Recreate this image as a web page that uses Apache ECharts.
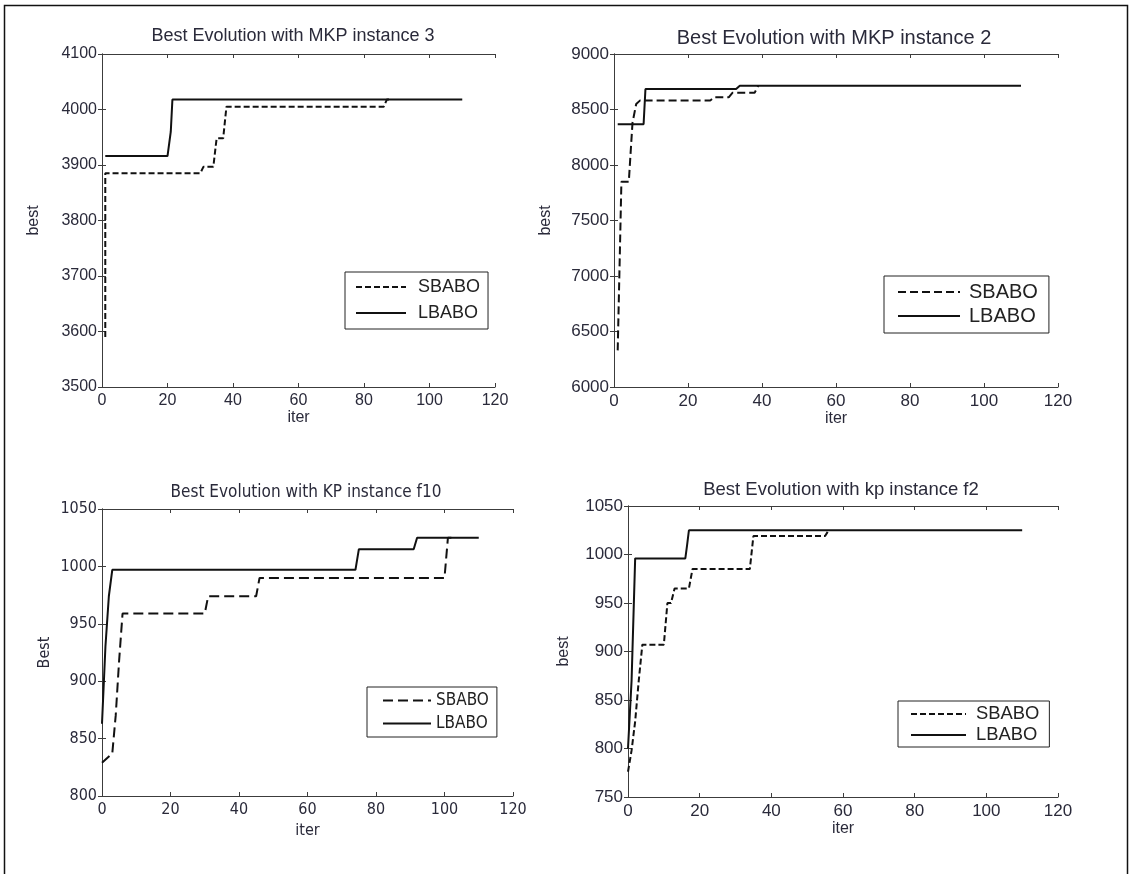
<!DOCTYPE html>
<html>
<head>
<meta charset="utf-8">
<script src="https://cdn.jsdelivr.net/npm/echarts@6/dist/echarts.min.js"></script>
<style>
html,body{margin:0;padding:0;background:#fff;}
#chart{width:1133px;height:874px;}
</style>
</head>
<body>
<div id="chart"></div>
<script>
// ---- Data (iteration, best value) ----
const titles = [
  'Best Evolution with MKP instance 3',
  'Best Evolution with MKP instance 2',
  'Best Evolution with KP instance f10',
  'Best Evolution with kp instance f2'
];
const yNames = ['best', 'best', 'Best', 'best'];
const xName = 'iter';
const seriesNames = ['SBABO', 'LBABO'];

const xRange = [0, 120, 20];          // min, max, interval
const yRange1 = [3500, 4100, 100];
const yRange2 = [6000, 9000, 500];
const yRange3 = [800, 1050, 50];
const yRange4 = [750, 1050, 50];

const mkp3Sbabo = [[1,3590],[1,3885],[30,3885],[31,3897],[34,3897],[35,3948],[37,3948],[38,4005],[86,4005],[87,4018],[88,4018]];
const mkp3Lbabo = [[1,3916],[20,3916],[21,3960],[21.5,4018],[110,4018]];

const mkp2Sbabo = [[1,6330],[1.5,7084],[2,7850],[4,7850],[5,8380],[6,8550],[7,8580],[26,8580],[27,8610],[31,8610],[32,8650],[38,8650],[39,8715]];
const mkp2Lbabo = [[1,8367],[8,8367],[8.5,8685],[33,8685],[34,8715],[110,8715]];

const kpf10Sbabo = [[0,829],[3,837],[4,870],[5,918],[6,959],[30,959],[31,974],[45,974],[46,990],[100,990],[101,1025],[102,1025]];
const kpf10Lbabo = [[0,863],[1,930],[2,974],[3,997],[74,997],[75,1015],[91,1015],[92,1025],[110,1025]];

const kpf2Sbabo = [[0,776],[1,798],[2,828],[3,870],[4,907],[10,907],[11,950],[12,950],[13,965],[17,965],[18,985],[34,985],[35,1019],[55,1019],[56,1025]];
const kpf2Lbabo = [[0,800],[1,870],[2,996],[16,996],[16.5,1010],[17,1025],[110,1025]];

// ---- Layout ----
const FONT = "'Liberation Sans', Arial, sans-serif";
const NARROW = "'Liberation Sans Narrow', 'DejaVu Sans Condensed', 'Liberation Sans', Arial, sans-serif";
const panels = [
  {grid:{left:102, top:54, width:393, height:333}, y:yRange1, s:mkp3Sbabo, l:mkp3Lbabo, dash:[6,3], font:FONT, fs:16, tfs:18,
   titleX:293, titleY:36, yGap:60, xGap:22, nfs:16,
   legend:{left:345, top:272, pad:[6,8,7,10], gap:8, tpad:7}, lfs:18, iw:50},
  {grid:{left:614, top:54, width:444, height:333}, y:yRange2, s:mkp2Sbabo, l:mkp2Lbabo, dash:[8,4], font:FONT, fs:17, tfs:20,
   titleX:834, titleY:38, yGap:60, xGap:22, nfs:16,
   legend:{left:884, top:276, pad:[6,11,7,13], gap:4, tpad:4}, lfs:20, iw:62},
  {grid:{left:102, top:509, width:411, height:287}, y:yRange3, s:kpf10Sbabo, l:kpf10Lbabo, dash:[10,5], font:NARROW, fs:16, tfs:17,
   titleX:306, titleY:493, yGap:49, xGap:27, nfs:16,
   legend:{left:367, top:687, pad:[5,8,5,15], gap:6, tpad:0}, lfs:17, iw:48},
  {grid:{left:628, top:506, width:430, height:291}, y:yRange4, s:kpf2Sbabo, l:kpf2Lbabo, dash:[6,3], font:FONT, fs:17, tfs:18.5,
   titleX:841, titleY:490, yGap:56, xGap:23, nfs:16,
   legend:{left:898, top:701, pad:[4,10,3,12], gap:3, tpad:5}, lfs:18.4, iw:55}
];

const AX = '#3c3c3c';
const TXT = '#2a2a3a';
const plain = v => String(v);
const noDot = {color:'rgba(0,0,0,0)', borderColor:'rgba(0,0,0,0)', borderWidth:0};
const grids = [], xAxes = [], yAxes = [], series = [], titleArr = [], legends = [];

panels.forEach((p, i) => {
  grids.push(Object.assign({containLabel:false}, p.grid));
  const tick = {show:true, inside:true, length:4, lineStyle:{color:AX}};
  const line = {show:true, lineStyle:{color:AX, width:1}};
  // bottom x axis
  xAxes.push({type:'value', gridIndex:i, position:'bottom', min:xRange[0], max:xRange[1], interval:xRange[2],
    axisLine:line, axisTick:tick, splitLine:{show:false},
    axisLabel:{color:TXT, fontFamily:p.font, fontSize:p.fs, margin:6, formatter:plain},
    name:xName, nameLocation:'middle', nameGap:p.xGap, nameTextStyle:{color:TXT, fontFamily:p.font, fontSize:p.nfs}});
  // top x axis (ticks only)
  xAxes.push({type:'value', gridIndex:i, position:'top', min:xRange[0], max:xRange[1], interval:xRange[2],
    axisLine:line, axisTick:tick, splitLine:{show:false}, axisLabel:{show:false}});
  // left y axis
  yAxes.push({type:'value', gridIndex:i, position:'left', min:p.y[0], max:p.y[1], interval:p.y[2],
    axisLine:line, axisTick:tick, splitLine:{show:false},
    axisLabel:{color:TXT, fontFamily:p.font, fontSize:p.fs, margin:5, formatter:plain},
    name:yNames[i], nameLocation:'middle', nameGap:p.yGap, nameTextStyle:{color:TXT, fontFamily:p.font, fontSize:p.nfs}});
  // right y axis (ticks only)
  yAxes.push({type:'value', gridIndex:i, position:'right', min:p.y[0], max:p.y[1], interval:p.y[2],
    axisLine:line, axisTick:tick, splitLine:{show:false}, axisLabel:{show:false}});

  series.push({name:seriesNames[0], type:'line', xAxisIndex:2*i, yAxisIndex:2*i, data:p.s,
    symbol:'none', animation:false, itemStyle:{color:'#111'}, lineStyle:{color:'#111', width:2, type:p.dash}, z:3});
  series.push({name:seriesNames[1], type:'line', xAxisIndex:2*i, yAxisIndex:2*i, data:p.l,
    symbol:'none', animation:false, itemStyle:{color:'#111'}, lineStyle:{color:'#111', width:2, type:'solid'}, z:2});

  titleArr.push({text:titles[i], left:p.titleX, top:p.titleY, textAlign:'center', textVerticalAlign:'middle', padding:0,
    textStyle:{color:TXT, fontFamily:p.font, fontSize:p.tfs, fontWeight:'normal'}});

  legends.push({left:p.legend.left, top:p.legend.top, orient:'vertical', padding:p.legend.pad, itemGap:p.legend.gap,
    itemWidth:p.iw, itemHeight:10, borderColor:'#222', borderWidth:1, backgroundColor:'#fff',
    selectedMode:false,
    textStyle:{color:'#222', fontFamily:p.font, fontSize:p.lfs, padding:[0,0,0,p.legend.tpad]},
    data:[
      {name:seriesNames[0], itemStyle:noDot, lineStyle:{color:'#111', width:2, type:p.dash}},
      {name:seriesNames[1], itemStyle:noDot, lineStyle:{color:'#111', width:2, type:'solid'}}
    ]});
});

const chart = echarts.init(document.getElementById('chart'), null, {renderer:'canvas'});
chart.setOption({
  backgroundColor:'#fff',
  animation:false,
  title:titleArr,
  legend:legends,
  grid:grids,
  xAxis:xAxes,
  yAxis:yAxes,
  series:series,
  graphic:[{type:'rect', shape:{x:4.5, y:5.5, width:1123, height:900}, style:{fill:'none', stroke:'#111', lineWidth:1.5}, silent:true, z:-1}]
});
</script>
</body>
</html>
